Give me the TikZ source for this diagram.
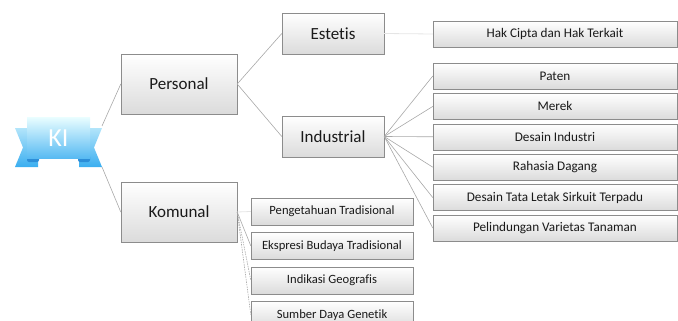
\documentclass[tikz,border=0pt]{standalone}
\usepackage{fontspec}
\setmainfont{Carlito}[Ligatures=NoCommon]
\usetikzlibrary{positioning}
\definecolor{boxline}{HTML}{8C8C8C}
\definecolor{linkgray}{HTML}{A8A8A8}
\definecolor{textdark}{HTML}{1A1A1A}
\definecolor{ribbontop}{HTML}{E6FCFF}
\definecolor{ribbonbot}{HTML}{3AAEF0}
\definecolor{ribbonfold}{HTML}{2C8ED8}
\tikzstyle{box} = [rectangle, draw=boxline, top color=white, bottom color=black!14, text=textdark, text centered, inner sep=0pt]
\tikzstyle{mainbox} = [box, minimum width=116pt, minimum height=60pt, font=\fontsize{17}{20}\selectfont]
\tikzstyle{midbox} = [box, minimum width=102pt, minimum height=41pt, font=\fontsize{17}{20}\selectfont]
\tikzstyle{leafbox} = [box, minimum width=244pt, minimum height=26pt, font=\fontsize{13.2}{15}\selectfont]
\tikzstyle{folkbox} = [box, minimum width=162pt, minimum height=27pt, font=\fontsize{12.6}{15}\selectfont]
\tikzstyle{link} = [draw=linkgray, line width=0.6pt]
\tikzstyle{faintlink} = [draw=black!10, line width=0.8pt]
\tikzstyle{dashlink} = [link, dash pattern=on 1.5pt off 1pt]

\begin{document}
\begin{tikzpicture}[x=1pt, y=-1pt]
    \useasboundingbox (0,0) rectangle (678,321);

    % ribbon for KI
    \shade[top color=ribbontop!70!ribbonbot, bottom color=ribbonbot] (15,128) -- (38,128) -- (38,167) -- (15,167) -- (23,147.5) -- cycle;
    \shade[top color=ribbontop!70!ribbonbot, bottom color=ribbonbot] (102,128) -- (79,128) -- (79,167) -- (102,167) -- (94,147.5) -- cycle;
    \fill[ribbonfold, rounded corners=2pt] (27,155) rectangle (39,162);
    \fill[ribbonfold, rounded corners=2pt] (78,155) rectangle (90,162);
    \node (ki) [rectangle, minimum width=63pt, minimum height=40pt, top color=ribbontop, bottom color=ribbonbot!85, text=white, font=\fontsize{26}{28}\selectfont] at (58.5,138) {KI};
    \coordinate (kitop) at (102,126);
    \coordinate (kibot) at (102,167);

    \node (personal) [mainbox] at (179,84) {Personal};
    \node (komunal) [mainbox] at (179,212) {Komunal};

    \node (estetis) [midbox] at (333,33.5) {Estetis};
    \node (industrial) [midbox] at (333,136.5) {Industrial};

    \node (hakcipta) [leafbox] at (555,34) {Hak Cipta dan Hak Terkait};
    \node (paten) [leafbox] at (555,76) {Paten};
    \node (merek) [leafbox, below=4pt of paten] {Merek};
    \node (desain) [leafbox, below=4pt of merek] {Desain Industri};
    \node (rahasia) [leafbox, below=4pt of desain] {Rahasia Dagang};
    \node (sirkuit) [leafbox, below=4pt of rahasia] {Desain Tata Letak Sirkuit Terpadu};
    \node (varietas) [leafbox, below=4pt of sirkuit] {Pelindungan Varietas Tanaman};

    \node (pengetahuan) [folkbox] at (332,211.5) {Pengetahuan Tradisional};
    \node (ekspresi) [folkbox, below=7pt of pengetahuan] {Ekspresi Budaya Tradisional};
    \node (indikasi) [folkbox, below=7pt of ekspresi] {Indikasi Geografis};
    \node (sumber) [folkbox, below=7pt of indikasi] {Sumber Daya Genetik};

    \draw [link] (kitop) -- (personal.west);
    \draw [link] (kibot) -- (komunal.west);
    \draw [link] (personal.east) -- (estetis.west);
    \draw [link] (personal.east) -- (industrial.west);
    \draw [faintlink] (estetis.east) -- (hakcipta.west);
    \foreach \leaf in {paten, merek, desain, rahasia, sirkuit, varietas}
        \draw [link] (industrial.east) -- (\leaf.west);
    \draw [faintlink] (komunal.east) -- (pengetahuan.west);
    \draw [link] (komunal.east) -- (ekspresi.west);
    \draw [dashlink] (komunal.east) -- (indikasi.west);
    \draw [dashlink] (komunal.east) -- (sumber.west);
\end{tikzpicture}
\end{document}
